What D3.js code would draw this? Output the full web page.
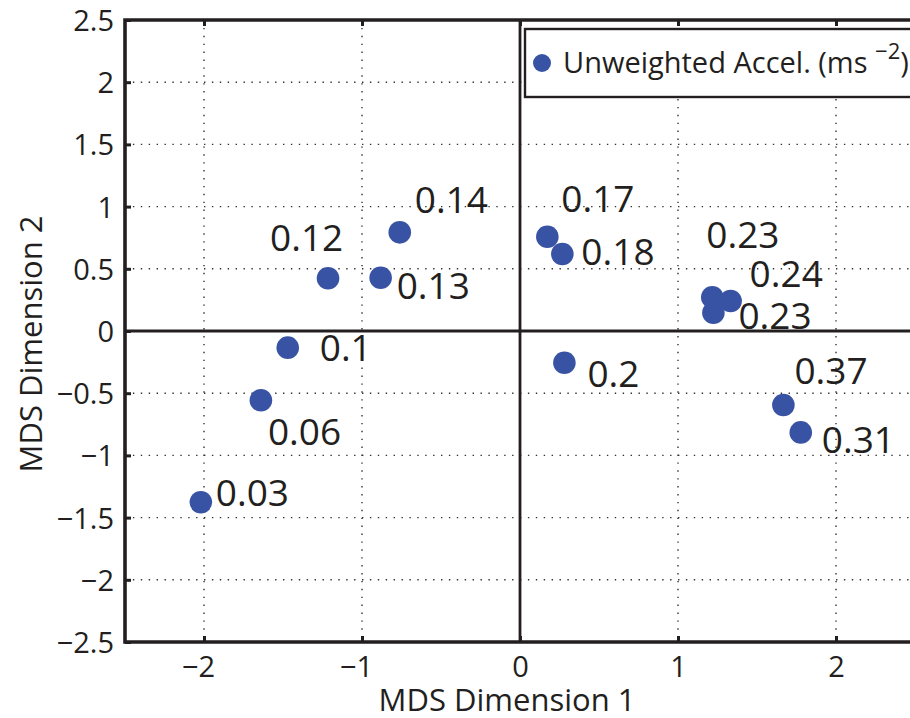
<!DOCTYPE html>
<html>
<head>
<meta charset="utf-8">
<script src="https://cdn.jsdelivr.net/npm/d3@7"></script>
<style>
  html, body { margin: 0; padding: 0; background: #fff; }
  svg { display: block; }
  text { font-family: "Open Sans", "Noto Sans", sans-serif; fill: #231f20; }
</style>
</head>
<body>
<svg id="chart" width="910" height="718"></svg>
<script>
// MDS coordinates of each condition and its unweighted acceleration (m/s^2)
const dim1 = [-2.02, -1.64, -1.47, -1.215, -0.882, -0.761, 0.173, 0.268, 0.281, 1.217, 1.333, 1.224, 1.667, 1.777];
const dim2 = [-1.377, -0.557, -0.134, 0.424, 0.428, 0.793, 0.758, 0.619, -0.255, 0.271, 0.241, 0.147, -0.595, -0.815];
const accel = ["0.03", "0.06", "0.1", "0.12", "0.13", "0.14", "0.17", "0.18", "0.2", "0.23", "0.24", "0.23", "0.37", "0.31"];

const xTicks = [-2, -1, 0, 1, 2];
const yTicks = [-2.5, -2, -1.5, -1, -0.5, 0, 0.5, 1, 1.5, 2, 2.5];

// hand-placed label nudges (px from marker centre to text start / baseline)
const labelNudge = [
  [15, 4], [7, 45], [32, 13], [-58, -27], [16, 21], [15, -19], [14, -25],
  [19, 11], [23, 24], [-6, -49], [19, -14], [25, 16], [11, -21], [21, 21]
];

const ink = "#231f20";
const dotColor = "#3953a4";

const svg = d3.select("#chart");
const x = d3.scaleLinear().domain([-2.5, 2.5]).range([125, 915]);
const y = d3.scaleLinear().domain([-2.5, 2.5]).range([642, 20]);
const [x0, x1] = x.range();
const [y0, y1] = y.range();

const fmt = v => (v < 0 ? "\u2212" : "") + Math.abs(v);

// dotted grid
const grid = svg.append("g");
grid.selectAll("line.gx").data(xTicks).join("line")
  .attr("x1", d => x(d)).attr("x2", d => x(d))
  .attr("y1", y1).attr("y2", y0)
  .attr("stroke", "#333").attr("stroke-width", 1.4)
  .attr("stroke-dasharray", "1.4,6.5");
grid.selectAll("line.gy").data(yTicks.slice(1, -1)).join("line")
  .attr("x1", x0).attr("x2", x1)
  .attr("y1", d => y(d)).attr("y2", d => y(d))
  .attr("stroke", "#333").attr("stroke-width", 1.4)
  .attr("stroke-dasharray", "1.4,6.5");

// zero lines
svg.append("line").attr("x1", x(0)).attr("x2", x(0)).attr("y1", y1).attr("y2", y0)
  .attr("stroke", ink).attr("stroke-width", 2.8);
svg.append("line").attr("x1", x0).attr("x2", x1).attr("y1", y(0)).attr("y2", y(0))
  .attr("stroke", ink).attr("stroke-width", 2.8);

// axes with inward ticks
const xAxis = svg.append("g").attr("transform", `translate(0,${y0})`)
  .call(d3.axisBottom(x).tickValues(xTicks).tickSize(-6).tickPadding(0).tickFormat(fmt));
const xAxisTop = svg.append("g").attr("transform", `translate(0,${y1})`)
  .call(d3.axisTop(x).tickValues(xTicks).tickSize(-6).tickFormat(""));
const yAxis = svg.append("g").attr("transform", `translate(${x0},0)`)
  .call(d3.axisLeft(y).tickValues(yTicks).tickSize(-6).tickPadding(0).tickFormat(fmt));

[xAxis, xAxisTop, yAxis].forEach(g => {
  g.select(".domain").remove();
  g.selectAll(".tick line").attr("stroke", ink).attr("stroke-width", 3);
});
xAxis.selectAll(".tick text")
  .attr("x", d => d < 0 ? -6 : 0)
  .attr("y", 35).attr("dy", 0)
  .style("font-size", "29px").attr("fill", ink);
yAxis.selectAll(".tick text")
  .attr("x", -11).attr("dy", "0.36em")
  .style("font-size", "29px").attr("fill", ink);

// frame
svg.append("path")
  .attr("d", `M${x1},${y1}H${x0}V${y0}H${x1}`)
  .attr("fill", "none").attr("stroke", ink).attr("stroke-width", 3.6);

// points
const idx = d3.range(dim1.length);
svg.append("g").selectAll("circle").data(idx).join("circle")
  .attr("cx", i => x(dim1[i])).attr("cy", i => y(dim2[i]))
  .attr("r", 11.3).attr("fill", dotColor);

// value labels
svg.append("g").selectAll("text").data(idx).join("text")
  .attr("x", i => x(dim1[i]) + labelNudge[i][0])
  .attr("y", i => y(dim2[i]) + labelNudge[i][1])
  .style("font-size", "37px")
  .text(i => accel[i]);

// axis titles
svg.append("text").attr("x", 507).attr("y", 711)
  .attr("text-anchor", "middle").style("font-size", "31px")
  .text("MDS Dimension 1");
svg.append("text").attr("transform", "translate(42,344) rotate(-90)")
  .attr("text-anchor", "middle").style("font-size", "31px")
  .text("MDS Dimension 2");

// legend
const lg = svg.append("g");
lg.append("rect").attr("x", 525).attr("y", 29).attr("width", 420).attr("height", 68)
  .attr("fill", "#fff").attr("stroke", ink).attr("stroke-width", 2.4);
lg.append("circle").attr("cx", 542).attr("cy", 63).attr("r", 9).attr("fill", dotColor);
const lt = lg.append("text").attr("x", 563).attr("y", 73).style("font-size", "29px");
lt.append("tspan").text("Unweighted Accel. (ms ");
lt.append("tspan").attr("dy", -14).style("font-size", "22px").text("\u22122");
lt.append("tspan").attr("dy", 14).text(")");
</script>
</body>
</html>
